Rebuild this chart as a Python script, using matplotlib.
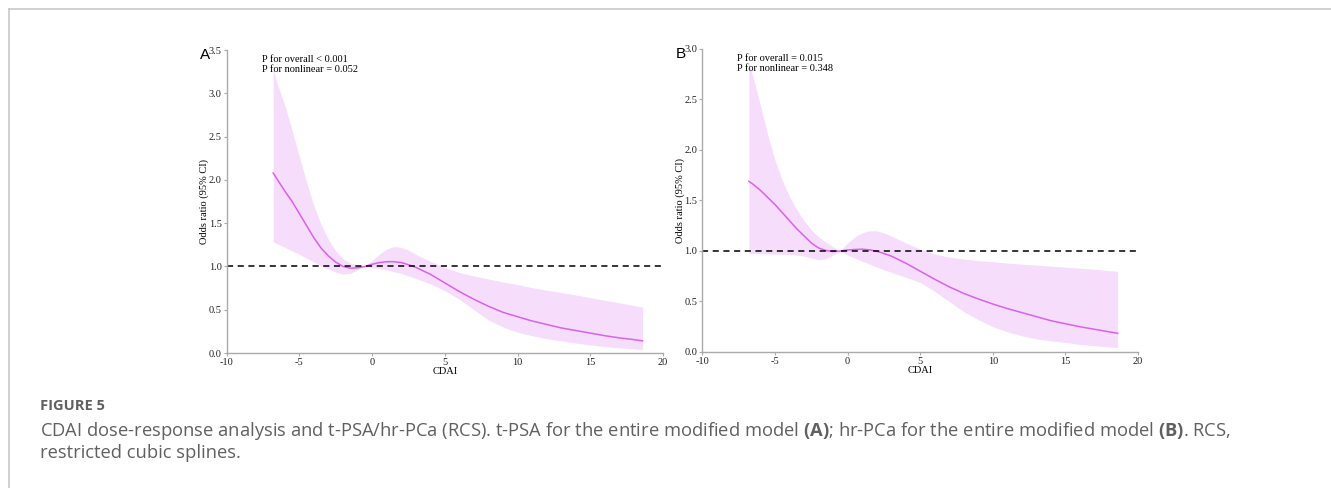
import matplotlib
matplotlib.use("Agg")
import matplotlib.pyplot as plt
from matplotlib.lines import Line2D

plt.rcParams["mathtext.fontset"] = "custom"
plt.rcParams["mathtext.rm"] = "Open Sans"
plt.rcParams["mathtext.bf"] = "Open Sans:bold"

# CDAI grid shared by both panels
cdai = [-6.8, -6.5, -6, -5.5, -5, -4.5, -4, -3.5, -3, -2.5, -2, -1.5, -1, -0.5, 0, 0.5, 1, 1.5, 2, 2.5, 3,
        4, 5, 6, 7, 8, 9, 10, 11, 12, 13, 14, 15, 16, 17, 18, 18.6]

# panel A: t-PSA
or_a = [2.08, 2.0, 1.87, 1.75, 1.61, 1.47, 1.33, 1.21, 1.12, 1.05, 1.0, 0.98, 0.985, 1.0,
        1.025, 1.045, 1.055, 1.055, 1.045, 1.02, 0.99,
        0.91, 0.81, 0.71, 0.62, 0.54, 0.47, 0.42, 0.37, 0.33, 0.29, 0.26, 0.23, 0.2, 0.175, 0.155, 0.14]
hi_a = [3.27, 3.1, 2.86, 2.57, 2.27, 1.97, 1.7, 1.48, 1.31, 1.18, 1.09, 1.04, 1.015, 1.003,
        1.07, 1.14, 1.2, 1.23, 1.22, 1.19, 1.14,
        1.06, 0.99, 0.93, 0.89, 0.855, 0.82, 0.79, 0.755, 0.725, 0.7, 0.67, 0.64, 0.61, 0.58, 0.55, 0.53]
lo_a = [1.285, 1.26, 1.22, 1.18, 1.14, 1.095, 1.05, 1.005, 0.97, 0.935, 0.912, 0.92, 0.96, 0.995,
        0.985, 0.975, 0.96, 0.94, 0.92, 0.89, 0.86,
        0.8, 0.72, 0.62, 0.5, 0.38, 0.3, 0.24, 0.2, 0.165, 0.14, 0.115, 0.095, 0.075, 0.06, 0.048, 0.04]

# panel B: hr-PCa
or_b = [1.69, 1.66, 1.6, 1.53, 1.46, 1.38, 1.3, 1.22, 1.15, 1.08, 1.03, 1.005, 0.995, 1.0,
        1.01, 1.015, 1.018, 1.012, 0.998, 0.975, 0.95,
        0.88, 0.8, 0.72, 0.645, 0.58, 0.525, 0.475, 0.43, 0.39, 0.35, 0.31, 0.28, 0.25, 0.225, 0.2, 0.185]
hi_b = [2.87, 2.72, 2.44, 2.15, 1.9, 1.7, 1.54, 1.41, 1.3, 1.21, 1.14, 1.09, 1.04, 1.005,
        1.08, 1.14, 1.18, 1.2, 1.2, 1.18, 1.15,
        1.08, 1.02, 0.97, 0.94, 0.92, 0.905, 0.895, 0.88, 0.87, 0.86, 0.85, 0.84, 0.83, 0.82, 0.805, 0.8]
lo_b = [0.975, 0.975, 0.975, 0.972, 0.97, 0.968, 0.965, 0.96, 0.95, 0.93, 0.915, 0.92, 0.96, 0.995,
        0.96, 0.93, 0.9, 0.87, 0.84, 0.815, 0.79,
        0.74, 0.69, 0.6, 0.5, 0.4, 0.32, 0.25, 0.2, 0.16, 0.13, 0.11, 0.095, 0.075, 0.062, 0.05, 0.045]

xticks = [-10, -5, 0, 5, 10, 15, 20]
xticklabels = ["-10", "-5", "0", "5", "10", "15", "20"]
yticks_a = [0.0, 0.5, 1.0, 1.5, 2.0, 2.5, 3.0, 3.5]
yticks_b = [0.0, 0.5, 1.0, 1.5, 2.0, 2.5, 3.0]
ptext_a = "P for overall < 0.001\nP for nonlinear = 0.052"
ptext_b = "P for overall = 0.015\nP for nonlinear = 0.348"

band = "#f6ddfc"
line = "#d862ee"
serif = "Liberation Serif"

fig = plt.figure(figsize=(13.31, 4.88), dpi=100)

panels = [
    ([0.1703, 0.2766, 0.3278, 0.6209], or_a, hi_a, lo_a, yticks_a, ptext_a, "A"),
    ([0.5277, 0.2787, 0.3273, 0.6209], or_b, hi_b, lo_b, yticks_b, ptext_b, "B"),
]

for pos, mid, hi, lo, yt, ptxt, letter in panels:
    ax = fig.add_axes(pos)
    ax.fill_between(cdai, lo, hi, color=band, lw=0)
    ax.plot(cdai, mid, color=line, lw=1.1)
    ax.axhline(1.0, color="black", lw=1.1, ls=(0, (4, 3)))
    ax.set_xlim(-10, 20)
    ax.set_ylim(0, yt[-1])
    ax.set_xticks(xticks)
    ax.set_xticklabels(xticklabels)
    ax.set_yticks(yt)
    ax.set_yticklabels([f"{v:.1f}" for v in yt])
    for s in ["top", "right"]:
        ax.spines[s].set_visible(False)
    for s in ["left", "bottom"]:
        ax.spines[s].set_color("#aaaaaa")
        ax.spines[s].set_linewidth(1.0)
    ax.tick_params(length=2.5, width=0.8, color="#aaaaaa", pad=1,
                   labelsize=7.5, labelcolor="#222222")
    for lab in ax.get_xticklabels() + ax.get_yticklabels():
        lab.set_family(serif)
    ax.set_xlabel("CDAI", family=serif, fontsize=7.5, labelpad=0)
    ax.set_ylabel("Odds ratio (95% CI)", family=serif, fontsize=7.5, labelpad=0)
    ax.text(-7.6, yt[-1] * 0.985, ptxt, family=serif, fontsize=7.5, va="top",
            ha="left", linespacing=1.2)
    ax.text(-0.05, 0.983, letter, transform=ax.transAxes, family="Liberation Sans",
            fontsize=11, ha="center", va="center")

# page frame lines
fig.add_artist(Line2D([9 / 1331, 1], [1 - 9 / 488] * 2, color="#c8c8c8", lw=1.2))
fig.add_artist(Line2D([9 / 1331] * 2, [0, 1 - 9 / 488], color="#c8c8c8", lw=1.2))

grey = "#606060"
fig.text(40 / 1331, 1 - 406 / 488, "FIGURE 5", family="Open Sans", weight="bold",
         fontsize=10.5, color=grey, va="center")
fig.text(40 / 1331, 1 - 431 / 488,
         "CDAI dose-response analysis and t-PSA/hr-PCa (RCS). t-PSA for the entire modified model "
         r"$\mathbf{(A)}$; hr-PCa for the entire modified model $\mathbf{(B)}$. RCS,",
         family="Open Sans", fontsize=13.2, color=grey, va="center")
fig.text(40 / 1331, 1 - 453 / 488, "restricted cubic splines.",
         family="Open Sans", fontsize=13.2, color=grey, va="center")

fig.savefig("out.png", dpi=100)
plt.close(fig)
